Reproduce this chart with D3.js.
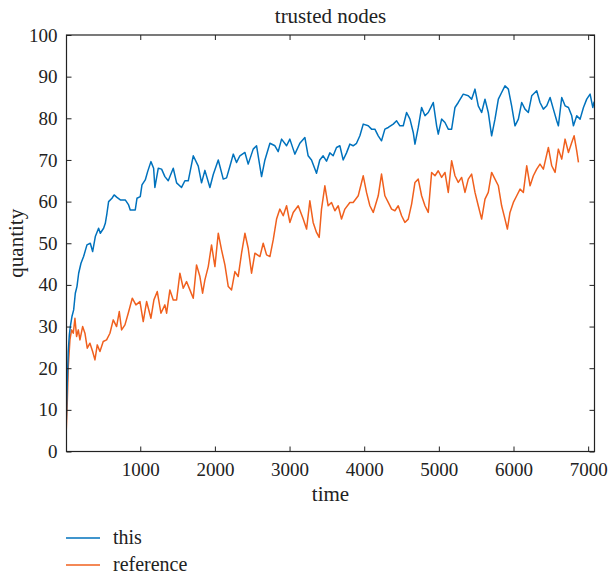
<!DOCTYPE html>
<html>
<head>
<meta charset="utf-8">
<script src="https://cdn.jsdelivr.net/npm/d3@7"></script>
<style>
  body { margin: 0; background: #fff; }
  svg text { font-family: "Liberation Serif", "DejaVu Serif", serif; fill: #222; }
</style>
</head>
<body>
<svg id="chart" width="609" height="575"></svg>
<script>
// time / value pairs
const thisTime = [0, 10, 20, 35, 50, 63, 85, 108, 130, 152, 175, 206, 241, 286, 331, 362, 398, 442, 465, 509, 532, 554, 576, 621, 650, 688, 733, 799, 844, 866, 933, 956, 1000, 1023, 1067, 1099, 1143, 1179, 1196, 1241, 1286, 1330, 1375, 1442, 1487, 1553, 1598, 1643, 1710, 1777, 1821, 1866, 1933, 1978, 2045, 2112, 2156, 2201, 2246, 2290, 2335, 2402, 2446, 2513, 2558, 2625, 2670, 2737, 2804, 2848, 2893, 2960, 3004, 3071, 3138, 3205, 3249, 3294, 3361, 3405, 3450, 3495, 3540, 3584, 3629, 3674, 3718, 3763, 3808, 3852, 3897, 3942, 3987, 4054, 4098, 4143, 4188, 4232, 4277, 4322, 4389, 4434, 4478, 4523, 4568, 4613, 4657, 4680, 4724, 4769, 4814, 4858, 4903, 4925, 4970, 4992, 5037, 5082, 5126, 5171, 5216, 5260, 5327, 5394, 5439, 5484, 5528, 5573, 5618, 5662, 5707, 5752, 5797, 5841, 5886, 5931, 5975, 6020, 6065, 6110, 6154, 6199, 6244, 6311, 6355, 6400, 6445, 6490, 6534, 6579, 6601, 6646, 6691, 6736, 6780, 6803, 6847, 6892, 6937, 6981, 7026, 7062, 7080];
const thisValues = [2, 8, 15, 24, 28, 30, 32.4, 34, 38, 39.6, 42.8, 45.2, 46.8, 49.6, 50, 48, 51.6, 53.6, 52.4, 53.6, 54.8, 57.2, 60, 60.8, 61.6, 61, 60.4, 60.4, 59.2, 58, 58, 60.8, 61.2, 64, 65.2, 67.2, 69.6, 68, 63.4, 68, 67.8, 66, 65, 68, 64.5, 63.4, 65, 65, 71, 68.5, 64.5, 67.5, 63.4, 66.5, 70, 65.4, 65.7, 68.5, 71.4, 69.4, 71, 71.8, 69, 72.6, 73.4, 66, 70, 74, 73.4, 72, 75, 73.4, 75, 71.4, 74, 75.4, 71, 70, 66.8, 70, 71, 69.7, 71.7, 71, 73, 73.4, 70, 71.7, 73.8, 73.4, 74, 75.8, 78.6, 78.2, 77.4, 77.4, 75.8, 74.6, 77.4, 77.8, 78.6, 79.4, 78.2, 78.2, 81.4, 79.8, 76.6, 73.8, 77.8, 82.6, 80.6, 81.4, 83, 83.8, 78.2, 76.2, 79.8, 79, 77.4, 77.4, 82.6, 83.8, 85.8, 85.4, 84.6, 87, 83, 81.4, 84.6, 81.4, 75.8, 79.8, 84.6, 86.2, 87.8, 87, 83, 78.2, 79.8, 83.8, 82.2, 81.4, 85.4, 86.6, 83.8, 82.2, 83, 85, 82.2, 79.4, 78.2, 85, 83, 82.6, 80.6, 78.2, 80.6, 79.8, 82.6, 84.6, 85.8, 82.6, 84];

const refTime = [0, 22, 36, 58, 80, 103, 125, 147, 170, 192, 228, 259, 290, 326, 362, 393, 424, 460, 504, 549, 594, 638, 683, 719, 750, 795, 839, 893, 942, 996, 1040, 1085, 1143, 1183, 1228, 1277, 1330, 1353, 1397, 1442, 1487, 1531, 1576, 1620, 1665, 1710, 1754, 1799, 1835, 1866, 1911, 1955, 2000, 2045, 2089, 2134, 2179, 2223, 2268, 2312, 2357, 2402, 2446, 2491, 2536, 2603, 2647, 2692, 2737, 2781, 2826, 2870, 2915, 2960, 3004, 3049, 3116, 3183, 3228, 3272, 3316, 3361, 3397, 3428, 3473, 3517, 3562, 3607, 3652, 3696, 3741, 3808, 3852, 3920, 3987, 4031, 4076, 4121, 4188, 4232, 4277, 4322, 4367, 4411, 4456, 4501, 4545, 4590, 4635, 4680, 4724, 4769, 4814, 4858, 4903, 4948, 4992, 5037, 5082, 5126, 5171, 5216, 5260, 5305, 5350, 5394, 5439, 5484, 5528, 5573, 5618, 5662, 5707, 5752, 5797, 5841, 5886, 5918, 5953, 5998, 6043, 6088, 6132, 6177, 6222, 6266, 6311, 6355, 6400, 6467, 6512, 6557, 6601, 6646, 6691, 6736, 6780, 6812, 6847, 6870];
const refValues = [1, 11.6, 20.4, 26.8, 29.2, 28.4, 32, 27.6, 29.2, 26.8, 30, 28.4, 24.8, 26, 24, 22, 25.6, 24, 26.4, 26.8, 28.4, 31.6, 30, 33.6, 29.2, 30.4, 33.2, 36.8, 35.2, 36, 31.2, 36, 32, 36.4, 38.4, 33.2, 35.2, 33.2, 38.8, 36.4, 36.4, 42.8, 39.2, 40.8, 38.8, 36.8, 44.8, 42, 38, 41.2, 44.4, 49.6, 44.4, 52.4, 48.4, 44.8, 39.6, 38.8, 43.2, 42, 47.6, 52.4, 48.8, 42.8, 47.6, 46.8, 50, 47.2, 46.8, 50.8, 55.8, 58.2, 56.6, 59, 55, 57.4, 59, 55.8, 53.4, 60.2, 55, 52.6, 51.4, 58.2, 63.8, 59, 59.8, 57.8, 59, 55.8, 58.2, 59.8, 59.8, 61.4, 66.2, 62.2, 59, 57.4, 61.4, 66.6, 61.4, 59.8, 58.2, 57.8, 59, 56.6, 55, 55.8, 59.4, 64.6, 65.4, 61.4, 59, 57.4, 67, 66.2, 67.4, 65.8, 67, 62.2, 69.8, 66.2, 64.6, 65.8, 62.2, 65.4, 66.6, 62.2, 59, 55.8, 60.6, 62.2, 67, 65.4, 63.8, 59, 55.8, 53.4, 57.4, 59.8, 61.4, 63, 62.2, 68.6, 63.8, 66.2, 67.8, 69, 67.8, 73, 68.6, 67, 72.6, 70.2, 75, 71.8, 74.2, 75.8, 72.2, 69.4];

const seriesNames = ['this', 'reference'];
const seriesColors = ['#0072BD', '#F0601E'];
const yTicks = [0, 10, 20, 30, 40, 50, 60, 70, 80, 90, 100];
const xTicks = [1000, 2000, 3000, 4000, 5000, 6000, 7000];

const svg = d3.select('#chart');
const margin = { left: 66.5, top: 35, right: 14.5, bottom: 123.5 };
const W = 609 - margin.left - margin.right;
const H = 575 - margin.top - margin.bottom;

const x = d3.scaleLinear().domain([12, 7085]).range([0, W]);
const y = d3.scaleLinear().domain([0, 100]).range([H, 0]);

const g = svg.append('g').attr('transform', `translate(${margin.left},${margin.top})`);

const series = [
  { name: seriesNames[0], color: seriesColors[0], pts: thisTime.map((t, i) => [t, thisValues[i]]) },
  { name: seriesNames[1], color: seriesColors[1], pts: refTime.map((t, i) => [t, refValues[i]]) }
];

g.append('clipPath').attr('id', 'clip')
  .append('rect').attr('width', W).attr('height', H);

const line = d3.line().x(d => x(d[0])).y(d => y(d[1]));

g.append('g').attr('clip-path', 'url(#clip)')
  .selectAll('path')
  .data(series.slice().reverse())
  .enter().append('path')
  .attr('d', d => line(d.pts))
  .attr('fill', 'none')
  .attr('stroke', d => d.color)
  .attr('stroke-width', 1.5)
  .attr('stroke-linejoin', 'round');

// axes with inward ticks, mirrored on top/right
const fontSize = 19;
const labelSize = 21;
const axisStyle = sel => {
  sel.select('.domain').remove();
  sel.selectAll('line').attr('stroke', '#222').attr('stroke-width', 1);
  sel.selectAll('text').attr('font-size', fontSize).attr('font-family', '"Liberation Serif", serif').attr('fill', '#222');
};

g.append('g').attr('transform', `translate(0,${H})`)
  .call(d3.axisBottom(x).tickValues(xTicks).tickSizeInner(-5).tickSizeOuter(0).tickPadding(11).tickFormat(d3.format('d')))
  .call(axisStyle);
g.append('g')
  .call(d3.axisTop(x).tickValues(xTicks).tickSizeInner(-5).tickSizeOuter(0).tickFormat(''))
  .call(axisStyle);
g.append('g')
  .call(d3.axisLeft(y).tickValues(yTicks).tickSizeInner(-5).tickSizeOuter(0).tickPadding(9).tickFormat(d3.format('d')))
  .call(axisStyle);
g.append('g').attr('transform', `translate(${W},0)`)
  .call(d3.axisRight(y).tickValues(yTicks).tickSizeInner(-5).tickSizeOuter(0).tickFormat(''))
  .call(axisStyle);

g.append('rect').attr('width', W).attr('height', H)
  .attr('fill', 'none').attr('stroke', '#222').attr('stroke-width', 1.2);

// title and labels
svg.append('text').attr('x', margin.left + W / 2).attr('y', 23)
  .attr('text-anchor', 'middle').attr('font-size', labelSize).text('trusted nodes');
svg.append('text').attr('x', margin.left + W / 2).attr('y', 501)
  .attr('text-anchor', 'middle').attr('font-size', labelSize).text('time');
svg.append('text').attr('transform', `translate(23,${margin.top + H / 2}) rotate(-90)`)
  .attr('text-anchor', 'middle').attr('font-size', labelSize).text('quantity');

// legend
const legend = svg.append('g').attr('transform', 'translate(66,538)');
series.forEach((s, i) => {
  const row = legend.append('g').attr('transform', `translate(0,${i * 27})`);
  row.append('line').attr('x1', 0).attr('x2', 34).attr('stroke', s.color).attr('stroke-width', 1.4);
  row.append('text').attr('x', 47).attr('y', 6).attr('font-size', 20).text(s.name);
});
</script>
</body>
</html>
